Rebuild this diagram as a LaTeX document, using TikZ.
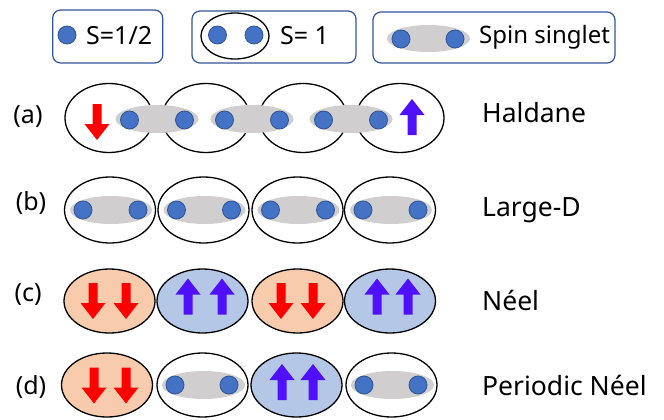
\documentclass[tikz,border=0pt]{standalone}
\usepackage{fontspec}
\setmainfont{Noto Sans}
\usetikzlibrary{shapes.geometric}
\definecolor{dotfill}{HTML}{4472C4}
\definecolor{dotdraw}{HTML}{2F5597}
\definecolor{singgrey}{HTML}{D0CECE}
\definecolor{orangefill}{HTML}{F8CBAD}
\definecolor{bluefill}{HTML}{B4C7E7}
\definecolor{arrblue}{HTML}{4F10FF}
\definecolor{arrred}{HTML}{FF0000}
\definecolor{boxdraw}{HTML}{2F5597}
\tikzset{
  txt/.style={inner sep=0pt, font=\fontsize{25}{30}\selectfont},
  rtxt/.style={inner sep=0pt, anchor=west, font=\fontsize{26.5}{32}\selectfont},
  legbox/.style={draw=boxdraw, line width=1.2pt, rounded corners=8pt, inner sep=0pt},
  site/.style={ellipse, draw=black, line width=1.3pt, inner sep=0pt, minimum width=91pt, minimum height=66pt},
  sitea/.style={site, minimum width=88pt, minimum height=69pt},
  singlet/.style={ellipse, fill=singgrey, inner sep=0pt, minimum width=83pt, minimum height=28pt},
  spin/.style={circle, fill=dotfill, draw=dotdraw, line width=0.8pt, inner sep=0pt, minimum size=18pt},
  uparr/.pic={\fill[arrblue] (0,-18) -- (12.5,-2) -- (4.5,-2) -- (4.5,18) -- (-4.5,18) -- (-4.5,-2) -- (-12.5,-2) -- cycle;},
  downarr/.pic={\fill[arrred] (0,18) -- (12.5,2) -- (4.5,2) -- (4.5,-18) -- (-4.5,-18) -- (-4.5,2) -- (-12.5,2) -- cycle;}
}
\begin{document}
\begin{tikzpicture}[x=1pt,y=-1pt]
\useasboundingbox (0,0) rectangle (664,420);
% ---------- legend ----------
\node[legbox, minimum width=110pt, minimum height=53pt] (box1) at (107.7,36.5) {};
\node[spin] (l1d) at (67,35) {};
\node[txt, anchor=west] (l1t) at (86,36) {S=1/2};

\node[legbox, minimum width=164pt, minimum height=52pt] (box2) at (274,37) {};
\node[ellipse, draw=black, line width=1.3pt, inner sep=0pt, minimum width=68pt, minimum height=46pt] (l2e) at (235,36) {};
\node[spin] (l2a) at (217.5,35) {};
\node[spin] (l2b) at (254,35) {};
\node[txt, anchor=west] (l2t) at (280,36) {S= 1};

\node[legbox, minimum width=242pt, minimum height=51pt] (box3) at (494,37.5) {};
\node[singlet, minimum height=27pt] (l3s) at (428.5,38.5) {};
\node[spin] (l3a) at (401,39) {};
\node[spin] (l3b) at (455,39) {};
\node[txt, anchor=west, font=\fontsize{24}{29}\selectfont] (l3t) at (479,37) {Spin singlet};

% ---------- row (a) ----------
\node[txt] (la) at (28,117) {(a)};
\node[sitea] (a1) at (109,118) {};
\node[sitea] (a2) at (206,118) {};
\node[sitea] (a3) at (303,118) {};
\node[sitea] (a4) at (400,118) {};
\foreach \c/\n in {157/1,252/2,351/3}{
  \node[singlet] (as\n) at (\c,119) {};
  \node[spin] (as\n l) at (\c-27.5,120) {};
  \node[spin] (as\n r) at (\c+27.5,120) {};
}
\pic at (97,122) {downarr};
\pic at (412,117) {uparr};
\node[rtxt] (ta) at (482,113) {Haldane};

% ---------- row (b) ----------
\node[txt] (lb) at (31,203) {(b)};
\foreach \c/\n in {110/1,203.5/2,297.5/3,390/4}{
  \node[site] (b\n) at (\c,210) {};
  \node[singlet, minimum width=82pt] (bs\n) at (\c+1,210) {};
  \node[spin] (bs\n l) at (\c-27,210) {};
  \node[spin] (bs\n r) at (\c+28,210) {};
}
\node[rtxt] (tb) at (482,210) {Large-D};

% ---------- row (c) ----------
\node[txt] (lc) at (28,295) {(c)};
\node[site, fill=orangefill, minimum height=64pt] (c1) at (109.5,301) {};
\node[site, fill=bluefill, minimum height=64pt] (c2) at (202.5,301) {};
\node[site, fill=orangefill, minimum height=64pt] (c3) at (297.5,301) {};
\node[site, fill=bluefill, minimum height=64pt] (c4) at (390,301) {};
\pic at (93,301) {downarr};
\pic at (126,301) {downarr};
\pic at (188,296.5) {uparr};
\pic at (222,296.5) {uparr};
\pic at (281,301) {downarr};
\pic at (313,301) {downarr};
\pic at (377,296.5) {uparr};
\pic at (408,296.5) {uparr};
\node[rtxt] (tc) at (482,300) {Néel};

% ---------- row (d) ----------
\node[txt] (ld) at (31,387) {(d)};
\node[site, fill=orangefill, minimum height=64pt] (d1) at (107,385) {};
\node[site, minimum height=64pt] (d2) at (202.5,385) {};
\node[site, fill=bluefill, minimum height=64pt] (d3) at (296.5,385) {};
\node[site, minimum height=64pt] (d4) at (391.5,385) {};
\node[singlet] (ds2) at (203.5,385) {};
\node[spin] (ds2l) at (175,385) {};
\node[spin] (ds2r) at (229,385) {};
\node[singlet] (ds4) at (392.5,385) {};
\node[spin] (ds4l) at (364,385) {};
\node[spin] (ds4r) at (418,385) {};
\pic at (94,385.5) {downarr};
\pic at (126,385.5) {downarr};
\pic at (282,382) {uparr};
\pic at (313,382) {uparr};
\node[rtxt] (td) at (482,385) {Periodic Néel};
\end{tikzpicture}
\end{document}
